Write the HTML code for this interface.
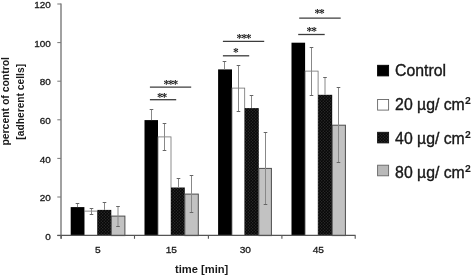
<!DOCTYPE html>
<html><head><meta charset="utf-8"><style>
html,body{margin:0;padding:0;background:#fff;width:472px;height:276px;overflow:hidden}
svg{display:block;will-change:transform}
text{font-family:"Liberation Sans",sans-serif;fill:#1a1a1a}
</style></head><body>
<svg width="472" height="276" viewBox="0 0 472 276">
<defs>
<pattern id="chk" x="0" y="0" width="3" height="3" patternUnits="userSpaceOnUse">
<rect width="3" height="3" fill="#070707"/><circle cx="0.75" cy="0.75" r="0.65" fill="#303030"/><circle cx="2.25" cy="2.25" r="0.65" fill="#303030"/>
</pattern>
</defs>
<rect width="472" height="276" fill="#fff"/>

<line x1="61" y1="3.5" x2="61" y2="238.7" stroke="#8a8a8a" stroke-width="1.6"/>
<line x1="57.3" y1="235.60" x2="61" y2="235.60" stroke="#777" stroke-width="1"/>
<text transform="translate(50.8,239.70) scale(1.07,1)" font-size="9.3" stroke="#1a1a1a" stroke-width="0.3" text-anchor="end">0</text>
<line x1="57.3" y1="197.00" x2="61" y2="197.00" stroke="#777" stroke-width="1"/>
<text transform="translate(50.8,201.10) scale(1.07,1)" font-size="9.3" stroke="#1a1a1a" stroke-width="0.3" text-anchor="end">20</text>
<line x1="57.3" y1="158.40" x2="61" y2="158.40" stroke="#777" stroke-width="1"/>
<text transform="translate(50.8,162.50) scale(1.07,1)" font-size="9.3" stroke="#1a1a1a" stroke-width="0.3" text-anchor="end">40</text>
<line x1="57.3" y1="119.80" x2="61" y2="119.80" stroke="#777" stroke-width="1"/>
<text transform="translate(50.8,123.90) scale(1.07,1)" font-size="9.3" stroke="#1a1a1a" stroke-width="0.3" text-anchor="end">60</text>
<line x1="57.3" y1="81.20" x2="61" y2="81.20" stroke="#777" stroke-width="1"/>
<text transform="translate(50.8,85.30) scale(1.07,1)" font-size="9.3" stroke="#1a1a1a" stroke-width="0.3" text-anchor="end">80</text>
<line x1="57.3" y1="42.60" x2="61" y2="42.60" stroke="#777" stroke-width="1"/>
<text transform="translate(50.8,46.70) scale(1.07,1)" font-size="9.3" stroke="#1a1a1a" stroke-width="0.3" text-anchor="end">100</text>
<line x1="57.3" y1="4.00" x2="61" y2="4.00" stroke="#777" stroke-width="1"/>
<text transform="translate(50.8,8.10) scale(1.07,1)" font-size="9.3" stroke="#1a1a1a" stroke-width="0.3" text-anchor="end">120</text>
<line x1="61.20" y1="235.6" x2="61.20" y2="238.8" stroke="#555" stroke-width="1.1"/>
<line x1="134.50" y1="235.6" x2="134.50" y2="238.8" stroke="#555" stroke-width="1.1"/>
<line x1="208.40" y1="235.6" x2="208.40" y2="238.8" stroke="#555" stroke-width="1.1"/>
<line x1="281.90" y1="235.6" x2="281.90" y2="238.8" stroke="#555" stroke-width="1.1"/>
<line x1="355.20" y1="235.6" x2="355.20" y2="238.8" stroke="#555" stroke-width="1.1"/>
<rect x="70.70" y="207.10" width="13.70" height="28.50" fill="#000" stroke="none" stroke-width="0.8"/>
<rect x="84.40" y="211.10" width="13.00" height="24.50" fill="#fff" stroke="#707070" stroke-width="0.8"/>
<rect x="97.40" y="209.90" width="13.90" height="25.70" fill="url(#chk)" stroke="none" stroke-width="0.8"/>
<rect x="111.30" y="216.10" width="13.60" height="19.50" fill="#c2c2c2" stroke="#4c4c4c" stroke-width="1.0"/>
<rect x="144.50" y="120.10" width="13.50" height="115.50" fill="#000" stroke="none" stroke-width="0.8"/>
<rect x="158.00" y="136.90" width="13.00" height="98.70" fill="#fff" stroke="#707070" stroke-width="0.8"/>
<rect x="171.00" y="187.50" width="13.80" height="48.10" fill="url(#chk)" stroke="none" stroke-width="0.8"/>
<rect x="184.80" y="194.10" width="13.50" height="41.50" fill="#c2c2c2" stroke="#4c4c4c" stroke-width="1.0"/>
<rect x="218.10" y="69.40" width="13.90" height="166.20" fill="#000" stroke="none" stroke-width="0.8"/>
<rect x="232.00" y="88.10" width="12.70" height="147.50" fill="#fff" stroke="#707070" stroke-width="0.8"/>
<rect x="244.70" y="108.10" width="14.10" height="127.50" fill="url(#chk)" stroke="none" stroke-width="0.8"/>
<rect x="258.80" y="168.40" width="12.60" height="67.20" fill="#c2c2c2" stroke="#4c4c4c" stroke-width="1.0"/>
<rect x="291.50" y="42.70" width="13.60" height="192.90" fill="#000" stroke="none" stroke-width="0.8"/>
<rect x="305.10" y="71.10" width="13.00" height="164.50" fill="#fff" stroke="#707070" stroke-width="0.8"/>
<rect x="318.10" y="94.80" width="14.10" height="140.80" fill="url(#chk)" stroke="none" stroke-width="0.8"/>
<rect x="332.20" y="125.20" width="13.20" height="110.40" fill="#c2c2c2" stroke="#4c4c4c" stroke-width="1.0"/>
<line x1="77.50" y1="203.50" x2="77.50" y2="207.10" stroke="#888" stroke-width="1"/>
<line x1="75.70" y1="203.50" x2="79.30" y2="203.50" stroke="#666" stroke-width="1"/>
<line x1="91.50" y1="208.50" x2="91.50" y2="214.50" stroke="#888" stroke-width="1"/>
<line x1="89.70" y1="208.50" x2="93.30" y2="208.50" stroke="#666" stroke-width="1"/>
<line x1="89.70" y1="214.50" x2="93.30" y2="214.50" stroke="#666" stroke-width="1"/>
<line x1="104.50" y1="202.50" x2="104.50" y2="209.90" stroke="#888" stroke-width="1"/>
<line x1="102.70" y1="202.50" x2="106.30" y2="202.50" stroke="#666" stroke-width="1"/>
<line x1="118.00" y1="206.50" x2="118.00" y2="226.50" stroke="#888" stroke-width="1"/>
<line x1="116.20" y1="206.50" x2="119.80" y2="206.50" stroke="#666" stroke-width="1"/>
<line x1="116.20" y1="226.50" x2="119.80" y2="226.50" stroke="#666" stroke-width="1"/>
<line x1="151.50" y1="109.50" x2="151.50" y2="120.10" stroke="#888" stroke-width="1"/>
<line x1="149.70" y1="109.50" x2="153.30" y2="109.50" stroke="#666" stroke-width="1"/>
<line x1="164.50" y1="123.50" x2="164.50" y2="150.50" stroke="#888" stroke-width="1"/>
<line x1="162.70" y1="123.50" x2="166.30" y2="123.50" stroke="#666" stroke-width="1"/>
<line x1="162.70" y1="150.50" x2="166.30" y2="150.50" stroke="#666" stroke-width="1"/>
<line x1="178.50" y1="178.50" x2="178.50" y2="187.50" stroke="#888" stroke-width="1"/>
<line x1="176.70" y1="178.50" x2="180.30" y2="178.50" stroke="#666" stroke-width="1"/>
<line x1="191.50" y1="175.50" x2="191.50" y2="212.50" stroke="#888" stroke-width="1"/>
<line x1="189.70" y1="175.50" x2="193.30" y2="175.50" stroke="#666" stroke-width="1"/>
<line x1="189.70" y1="212.50" x2="193.30" y2="212.50" stroke="#666" stroke-width="1"/>
<line x1="224.50" y1="61.50" x2="224.50" y2="69.40" stroke="#888" stroke-width="1"/>
<line x1="222.70" y1="61.50" x2="226.30" y2="61.50" stroke="#666" stroke-width="1"/>
<line x1="238.50" y1="65.50" x2="238.50" y2="111.50" stroke="#888" stroke-width="1"/>
<line x1="236.70" y1="65.50" x2="240.30" y2="65.50" stroke="#666" stroke-width="1"/>
<line x1="236.70" y1="111.50" x2="240.30" y2="111.50" stroke="#666" stroke-width="1"/>
<line x1="251.50" y1="95.50" x2="251.50" y2="108.10" stroke="#888" stroke-width="1"/>
<line x1="249.70" y1="95.50" x2="253.30" y2="95.50" stroke="#666" stroke-width="1"/>
<line x1="265.50" y1="132.50" x2="265.50" y2="204.50" stroke="#888" stroke-width="1"/>
<line x1="263.70" y1="132.50" x2="267.30" y2="132.50" stroke="#666" stroke-width="1"/>
<line x1="263.70" y1="204.50" x2="267.30" y2="204.50" stroke="#666" stroke-width="1"/>
<line x1="311.50" y1="47.50" x2="311.50" y2="95.50" stroke="#888" stroke-width="1"/>
<line x1="309.70" y1="47.50" x2="313.30" y2="47.50" stroke="#666" stroke-width="1"/>
<line x1="309.70" y1="95.50" x2="313.30" y2="95.50" stroke="#666" stroke-width="1"/>
<line x1="325.00" y1="77.50" x2="325.00" y2="94.80" stroke="#888" stroke-width="1"/>
<line x1="323.20" y1="77.50" x2="326.80" y2="77.50" stroke="#666" stroke-width="1"/>
<line x1="338.50" y1="87.50" x2="338.50" y2="162.50" stroke="#888" stroke-width="1"/>
<line x1="336.70" y1="87.50" x2="340.30" y2="87.50" stroke="#666" stroke-width="1"/>
<line x1="336.70" y1="162.50" x2="340.30" y2="162.50" stroke="#666" stroke-width="1"/>
<line x1="57.3" y1="235.4" x2="355.6" y2="235.4" stroke="#555" stroke-width="1.1"/>
<text transform="translate(97.8,252.7) scale(1.04,1)" font-size="9.8" stroke="#1a1a1a" stroke-width="0.3" text-anchor="middle">5</text>
<text transform="translate(171.3,252.7) scale(1.04,1)" font-size="9.8" stroke="#1a1a1a" stroke-width="0.3" text-anchor="middle">15</text>
<text transform="translate(245.3,252.7) scale(1.04,1)" font-size="9.8" stroke="#1a1a1a" stroke-width="0.3" text-anchor="middle">30</text>
<text transform="translate(318.3,252.7) scale(1.04,1)" font-size="9.8" stroke="#1a1a1a" stroke-width="0.3" text-anchor="middle">45</text>
<line x1="149.9" y1="87.2" x2="191.2" y2="87.2" stroke="#3c3c3c" stroke-width="1.3"/>
<text x="163.52 168.07 172.62" y="87.74" font-family="Liberation Serif" font-weight="bold" font-size="11.5" fill="#333" style="font-family:'Liberation Serif',serif">***</text>
<line x1="149.9" y1="99.7" x2="176.2" y2="99.7" stroke="#3c3c3c" stroke-width="1.3"/>
<text x="157.05 161.60" y="100.94" font-family="Liberation Serif" font-weight="bold" font-size="11.5" fill="#333" style="font-family:'Liberation Serif',serif">**</text>
<line x1="222.9" y1="41.4" x2="264.2" y2="41.4" stroke="#3c3c3c" stroke-width="1.3"/>
<text x="236.62 241.18 245.73" y="41.54" font-family="Liberation Serif" font-weight="bold" font-size="11.5" fill="#333" style="font-family:'Liberation Serif',serif">***</text>
<line x1="222.9" y1="55.8" x2="249.2" y2="55.8" stroke="#3c3c3c" stroke-width="1.3"/>
<text x="232.93" y="55.94" font-family="Liberation Serif" font-weight="bold" font-size="11.5" fill="#333" style="font-family:'Liberation Serif',serif">*</text>
<line x1="299.2" y1="18.1" x2="340.7" y2="18.1" stroke="#3c3c3c" stroke-width="1.3"/>
<text x="314.55 319.10" y="17.44" font-family="Liberation Serif" font-weight="bold" font-size="11.5" fill="#333" style="font-family:'Liberation Serif',serif">**</text>
<line x1="298.2" y1="34.5" x2="324.7" y2="34.5" stroke="#3c3c3c" stroke-width="1.3"/>
<text x="306.60 311.15" y="35.44" font-family="Liberation Serif" font-weight="bold" font-size="11.5" fill="#333" style="font-family:'Liberation Serif',serif">**</text>
<text x="175.0" y="272.5" font-size="11.6" font-weight="bold" textLength="53.3" lengthAdjust="spacingAndGlyphs">time [min]</text>
<text transform="translate(9.3,145.6) rotate(-90)" font-size="11" font-weight="bold" textLength="88.6" lengthAdjust="spacingAndGlyphs">percent of control</text>
<text transform="translate(24.3,139.7) rotate(-90)" font-size="11" font-weight="bold" textLength="75.8" lengthAdjust="spacingAndGlyphs">[adherent cells]</text>
<rect x="377.6" y="65.3" width="11" height="10.6" fill="#000" stroke="#000" stroke-width="0.9"/>
<text x="395.1" y="76.0" font-size="15.8" fill="#111" stroke="#111" stroke-width="0.35">Control</text>
<rect x="377.6" y="99.5" width="11" height="10.6" fill="#fff" stroke="#666" stroke-width="0.9"/>
<text x="395.1" y="110.0" font-size="15.8" fill="#111" stroke="#111" stroke-width="0.35">20 µg/ cm<tspan dx="0.5" dy="-1.6">²</tspan></text>
<rect x="377.6" y="132.3" width="11" height="10.6" fill="url(#chk)" stroke="#111" stroke-width="0.9"/>
<text x="395.1" y="143.9" font-size="15.8" fill="#111" stroke="#111" stroke-width="0.35">40 µg/ cm<tspan dx="0.5" dy="-1.6">²</tspan></text>
<rect x="377.6" y="165.2" width="11" height="10.6" fill="#b9b9b9" stroke="#666" stroke-width="0.9"/>
<text x="395.1" y="178.0" font-size="15.8" fill="#111" stroke="#111" stroke-width="0.35">80 µg/ cm<tspan dx="0.5" dy="-1.6">²</tspan></text>
</svg></body></html>
